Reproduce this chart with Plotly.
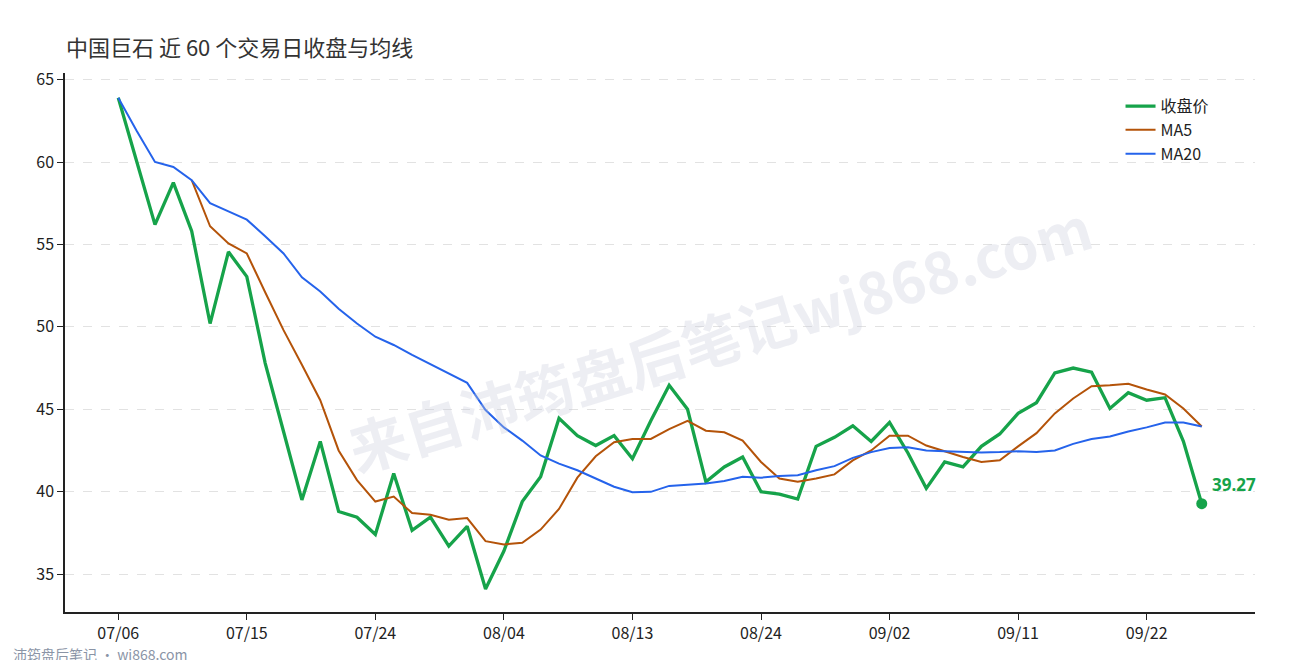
import plotly.graph_objects as go

# 近 60 个交易日
idx = list(range(60))
tick_pos = [0, 7, 14, 21, 28, 35, 42, 49, 56]
tick_labels = ["07/06", "07/15", "07/24", "08/04", "08/13", "08/24", "09/02", "09/11", "09/22"]

close = [63.9, 60.0, 56.2, 58.75, 55.8, 50.2, 54.55, 53.05, 47.8, 43.65,
         39.5, 43.05, 38.8, 38.45, 37.4, 41.1, 37.65, 38.45, 36.7, 37.9,
         34.1, 36.4, 39.4, 40.9, 44.45, 43.4, 42.8, 43.4, 42.0, 44.3,
         46.45, 45.0, 40.6, 41.5, 42.1, 40.0, 39.85, 39.55, 42.75, 43.3,
         44.0, 43.05, 44.2, 42.35, 40.2, 41.8, 41.5, 42.75, 43.5, 44.75,
         45.4, 47.2, 47.5, 47.25, 45.05, 46.0, 45.55, 45.7, 43.05, 39.27]

ma5 = [None, None, None, None, 58.9, 56.1, 55.06, 54.45, 52.1, 49.8,
       47.7, 45.55, 42.5, 40.7, 39.4, 39.7, 38.7, 38.6, 38.3, 38.4,
       37.0, 36.8, 36.9, 37.7, 38.95, 40.85, 42.15, 43.0, 43.2, 43.2,
       43.8, 44.3, 43.7, 43.6, 43.1, 41.8, 40.8, 40.6, 40.8, 41.05,
       41.9, 42.5, 43.4, 43.4, 42.8, 42.45, 42.1, 41.8, 41.9, 42.75,
       43.55, 44.75, 45.65, 46.4, 46.45, 46.55, 46.2, 45.9, 45.05, 43.95]

ma20 = [63.9, 61.9, 60.0, 59.7, 58.9, 57.5, 57.0, 56.5, 55.5, 54.45,
        53.0, 52.15, 51.1, 50.2, 49.4, 48.9, 48.3, 47.75, 47.15, 46.6,
        44.95, 43.9, 43.1, 42.2, 41.7, 41.3, 40.8, 40.3, 39.97, 39.99,
        40.35, 40.43, 40.5, 40.65, 40.9, 40.85, 40.95, 41.0, 41.3, 41.55,
        42.05, 42.4, 42.65, 42.7, 42.5, 42.45, 42.4, 42.38, 42.4, 42.45,
        42.4, 42.5, 42.9, 43.2, 43.35, 43.65, 43.9, 44.2, 44.2, 43.95]

GREEN = "#16a34a"
ORANGE = "#b45309"
BLUE = "#2563eb"

fig = go.Figure()
fig.add_trace(go.Scatter(x=idx, y=close, mode="lines", name="收盘价",
                         line=dict(color=GREEN, width=3.3)))
fig.add_trace(go.Scatter(x=idx, y=ma5, mode="lines", name="MA5",
                         line=dict(color=ORANGE, width=2)))
fig.add_trace(go.Scatter(x=idx, y=ma20, mode="lines", name="MA20",
                         line=dict(color=BLUE, width=2)))
# last close marker
fig.add_trace(go.Scatter(x=[idx[-1]], y=[close[-1]], mode="markers", showlegend=False,
                         marker=dict(color=GREEN, size=11)))

fig.add_annotation(x=idx[-1], y=close[-1], text=f"<b>{close[-1]:.2f}</b>", showarrow=False,
                   xanchor="left", yanchor="bottom", xshift=8, yshift=6,
                   font=dict(color=GREEN, size=17, family="Noto Sans"))

# watermark
fig.add_annotation(x=0.55, y=0.8, xref="paper", yref="paper", text="<b>来自沛筠盘后笔记wj868.com</b>",
                   showarrow=False, textangle=-17,
                   font=dict(size=58, color="rgba(200,204,220,0.33)", family="Noto Sans CJK SC"))
fig.add_annotation(x=-0.045, y=-0.1, xref="paper", yref="paper", text="沛筠盘后笔记 · wj868.com",
                   showarrow=False, xanchor="left", yanchor="bottom",
                   font=dict(size=14, color="#8a94a6", family="Noto Sans CJK SC"))

fig.update_layout(
    width=1290, height=660,
    margin=dict(l=57, r=43, t=65, b=56),
    paper_bgcolor="white", plot_bgcolor="white",
    font=dict(family="Noto Sans CJK SC, Noto Sans", size=15, color="#222"),
    title=dict(text="中国巨石 近 60 个交易日收盘与均线", x=0.045, xanchor="left", y=0.95,
               font=dict(size=22, color="#333")),
    legend=dict(x=0.887, y=0.97, xanchor="left", yanchor="top", bgcolor="rgba(0,0,0,0)",
                font=dict(size=16)),
    showlegend=True,
)
fig.update_xaxes(range=[-2.9, 61.9], tickvals=tick_pos, ticktext=tick_labels, automargin=False,
                 showline=True, linecolor="#222", linewidth=1.5, ticks="outside",
                 ticklen=6, tickcolor="#222", showgrid=False, zeroline=False,
                 tickfont=dict(size=16))
fig.update_yaxes(range=[32.7, 65.4], tickvals=[35, 40, 45, 50, 55, 60, 65], automargin=False,
                 showline=True, linecolor="#222", linewidth=1.5, ticks="outside",
                 ticklen=6, tickcolor="#222", showgrid=True, gridcolor="#e2e2e2",
                 griddash="dash", gridwidth=1, zeroline=False, tickfont=dict(size=16))

fig.write_html("out.html")
